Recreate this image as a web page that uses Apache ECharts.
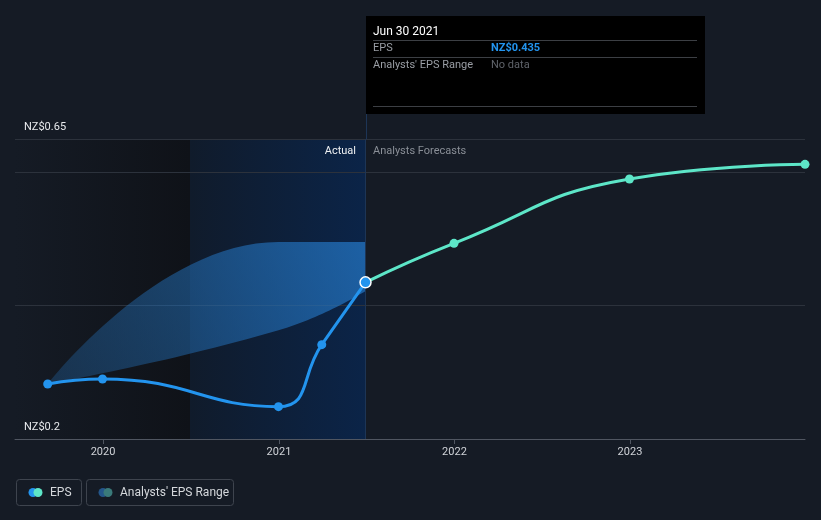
<!DOCTYPE html>
<html><head><meta charset="utf-8">
<script src="https://cdn.jsdelivr.net/npm/echarts@6/dist/echarts.min.js"></script>
<style>html,body{margin:0;padding:0;background:#151b25;}#c{width:821px;height:520px;}</style>
</head><body><div id="c"></div>
<script>
const epsActualDates = ['2019-09-08','2019-12-31','2020-12-31','2021-03-31','2021-06-30'];
const epsActualValues = [0.2825, 0.29, 0.2485, 0.3415, 0.435];
const epsForecastDates = ['2021-06-30','2021-12-31','2022-12-31','2023-12-31'];
const epsForecastValues = [0.435, 0.4935, 0.59, 0.612];
const rangeDates = ['2019-09-08','2020-12-31','2021-06-30'];
const rangeLow = [0.2825, 0.363, 0.422];
const rangeHigh = [0.2825, 0.4955, 0.4955];
const yearTicks = ['2020','2021','2022','2023'];
const yLabels = [0.2, 0.65];
const tooltipDate = 'Jun 30 2021';
const tooltipEps = 0.435;

const ts = d => new Date(d + 'T00:00:00Z').getTime();
const chart = echarts.init(document.getElementById('c'), null, {renderer:'canvas'});
const FONT = 'Roboto';
const blue = '#2394ee', aqua = '#5de6c8';
const cutDate = ts('2021-06-30');
const yearVals = yearTicks.map(y => ts(y + '-01-01'));
const xMin = ts('2019-07-02'), xMax = ts('2023-12-31');

const option = {
  backgroundColor: '#151b25',
  animation: false,
  grid: {left: 15, right: 16, top: 139, bottom: 81},
  xAxis: [{
    type: 'time', min: xMin, max: xMax,
    axisLine: {show: false}, axisTick: {show: false}, axisLabel: {show: false}, splitLine: {show: false}
  }, {
    type: 'value', min: xMin, max: xMax, position: 'bottom', z: 3,
    axisLine: {show: true, lineStyle: {color: '#505661', width: 1}},
    axisTick: {show: true, length: 5, lineStyle: {color: '#505661'}, customValues: yearVals},
    axisLabel: {color: '#d0d3d8', fontSize: 11, fontFamily: FONT, margin: 8,
      customValues: yearVals,
      formatter: v => String(new Date(v).getUTCFullYear())},
    splitLine: {show: false}
  }],
  yAxis: {
    type: 'value', min: 0.2, max: 0.65, interval: 0.2, z: 1,
    axisLine: {show: false}, axisTick: {show: false},
    splitLine: {show: true, lineStyle: {color: '#2c323c', width: 1}},
    axisLabel: {show: false}
  },
  series: [
    {
      type: 'line', name: 'bg', data: [], silent: true, xAxisIndex: 0,
      markArea: {silent: true, z: 0, data: [
        [{xAxis: xMin, itemStyle: {color: new echarts.graphic.LinearGradient(0,0,1,0,[{offset:0,color:'rgba(21,27,37,1)'},{offset:1,color:'rgba(15,18,24,1)'}])}}, {xAxis: ts('2020-06-30')}],
        [{xAxis: ts('2020-06-30'), itemStyle: {color: new echarts.graphic.LinearGradient(0,0,1,0,[{offset:0,color:'rgba(16,27,43,1)'},{offset:1,color:'rgba(11,36,72,1)'}])}}, {xAxis: cutDate}]
      ]},
      markLine: {silent: true, symbol: 'none', label: {show: false}, lineStyle: {color: '#1d3556', type: 'solid', width: 1},
        data: [{xAxis: cutDate}]}
    },
    {
      type: 'line', name: 'rangeLow', stack: 'r', smooth: 0.5, symbol: 'none', xAxisIndex: 0,
      lineStyle: {opacity: 0}, data: rangeDates.map((d, i) => [ts(d), rangeLow[i]])
    },
    {
      type: 'line', name: "Analysts' EPS Range", stack: 'r', smooth: 0.5, symbol: 'none', xAxisIndex: 0,
      lineStyle: {opacity: 0},
      areaStyle: {opacity: 1, color: new echarts.graphic.LinearGradient(0,1,1,0,[{offset:0,color:'rgba(36,110,180,0.30)'},{offset:1,color:'rgba(36,120,200,0.72)'}])},
      data: rangeDates.map((d, i) => [ts(d), rangeHigh[i] - rangeLow[i]])
    },
    {
      type: 'line', name: 'EPS', smooth: 0.5, symbol: 'circle', symbolSize: 9, xAxisIndex: 0,
      lineStyle: {color: blue, width: 3}, itemStyle: {color: blue},
      data: epsActualDates.map((d, i) => {
        const p = {value: [ts(d), epsActualValues[i]]};
        if (i === epsActualDates.length - 1) { p.itemStyle = {borderColor: '#ffffff', borderWidth: 1.5, color: blue}; p.symbolSize = 11; }
        return p;
      }), z: 5
    },
    {
      type: 'line', name: 'EPS forecast', smooth: 0.5, symbol: 'circle', symbolSize: 9, xAxisIndex: 0,
      lineStyle: {color: aqua, width: 3}, itemStyle: {color: aqua},
      data: epsForecastDates.map((d, i) => ({value: [ts(d), epsForecastValues[i]], symbolSize: i === 0 ? 0 : 9})), z: 4
    }
  ],
  graphic: [
    {type: 'line', z: 20, shape: {x1: 366.5, y1: 114, x2: 366.5, y2: 139}, style: {stroke: '#1d3556', lineWidth: 1}},
    {type: 'text', z: 20, x: 356, y: 151, style: {text: 'Actual', fill: '#eef0f2', font: '11px ' + FONT, align: 'right', verticalAlign: 'middle'}},
    {type: 'text', z: 20, x: 373, y: 151, style: {text: 'Analysts Forecasts', fill: '#8a8f97', font: '11px ' + FONT, align: 'left', verticalAlign: 'middle'}},
    {type: 'rect', shape: {x: 366, y: 16, width: 339, height: 98}, style: {fill: '#000000'}, z: 30},
    {type: 'text', x: 373, y: 32, z: 31, style: {text: tooltipDate, fill: '#ffffff', font: '12px ' + FONT, verticalAlign: 'middle'}},
    {type: 'line', z: 31, shape: {x1: 373, y1: 40.5, x2: 697, y2: 40.5}, style: {stroke: '#3c3f44', lineWidth: 1}},
    {type: 'text', x: 373, y: 48.5, z: 31, style: {text: 'EPS', fill: '#9a9ea5', font: '11px ' + FONT, verticalAlign: 'middle'}},
    {type: 'text', x: 491, y: 48.5, z: 31, style: {text: 'NZ$' + tooltipEps, fill: '#2394ee', font: 'bold 11px ' + FONT, verticalAlign: 'middle'}},
    {type: 'line', z: 31, shape: {x1: 373, y1: 57.5, x2: 697, y2: 57.5}, style: {stroke: '#3c3f44', lineWidth: 1}},
    {type: 'text', x: 373, y: 65.5, z: 31, style: {text: "Analysts' EPS Range", fill: '#9a9ea5', font: '11px ' + FONT, verticalAlign: 'middle'}},
    {type: 'text', x: 491, y: 65.5, z: 31, style: {text: 'No data', fill: '#5f636a', font: '11px ' + FONT, verticalAlign: 'middle'}},
    {type: 'line', z: 31, shape: {x1: 373, y1: 106.5, x2: 697, y2: 106.5}, style: {stroke: '#3c3f44', lineWidth: 1}},
    {type: 'rect', shape: {x: 16.5, y: 479.5, width: 65, height: 26, r: 3}, style: {fill: 'none', stroke: '#3e444e', lineWidth: 1}},
    {type: 'circle', shape: {cx: 33, cy: 492.5, r: 4.5}, style: {fill: blue}},
    {type: 'circle', shape: {cx: 38, cy: 492.5, r: 4.5}, style: {fill: aqua}},
    {type: 'text', x: 50, y: 493, style: {text: 'EPS', fill: '#d5d8dc', font: '12px ' + FONT, verticalAlign: 'middle'}},
    {type: 'rect', shape: {x: 86.5, y: 479.5, width: 147, height: 26, r: 3}, style: {fill: 'none', stroke: '#3e444e', lineWidth: 1}},
    {type: 'circle', shape: {cx: 103, cy: 492.5, r: 4.5}, style: {fill: '#24568a'}},
    {type: 'circle', shape: {cx: 108, cy: 492.5, r: 4.5}, style: {fill: '#3a7a7a'}},
    {type: 'text', x: 120, y: 493, style: {text: "Analysts' EPS Range", fill: '#d5d8dc', font: '12px ' + FONT, verticalAlign: 'middle'}}
  ]
};
chart.setOption(option);
// y-axis value labels placed through the library's y scale
const yLabelGraphics = yLabels.map(v => ({
  type: 'text', z: 20, x: 24, y: chart.convertToPixel({yAxisIndex: 0}, v) - 6,
  style: {text: 'NZ$' + v, fill: '#e8eaed', font: '11px ' + FONT, verticalAlign: 'bottom'}
}));
chart.setOption({graphic: option.graphic.concat(yLabelGraphics)});
</script></body></html>
